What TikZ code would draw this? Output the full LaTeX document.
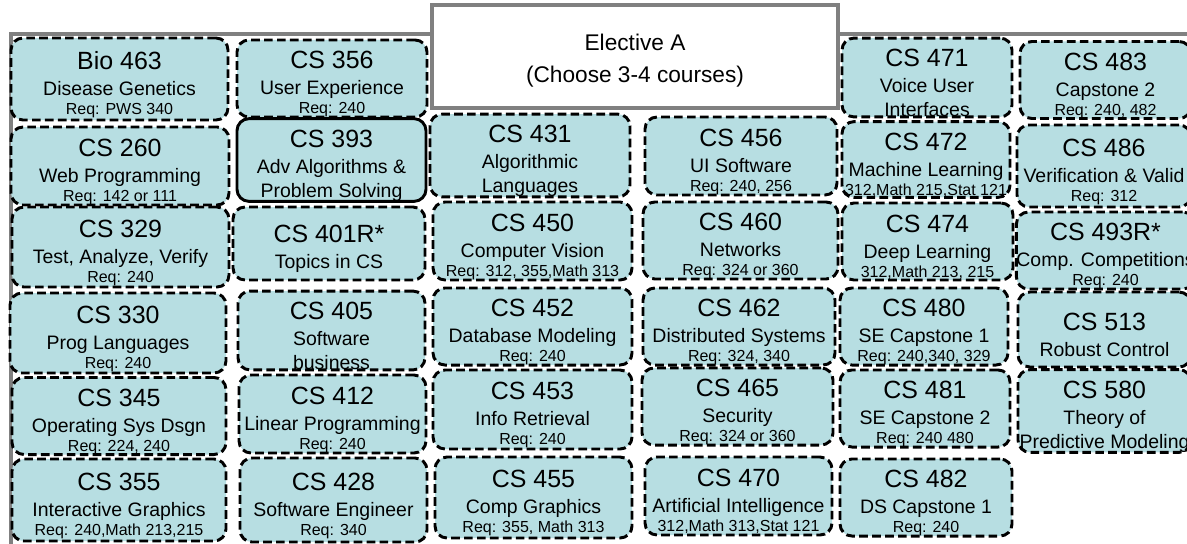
\documentclass[tikz,border=0pt]{standalone}
\usepackage{fontspec}
\setmainfont{Liberation Sans}

\definecolor{coursefill}{RGB}{183,222,226}
\definecolor{framegray}{RGB}{128,128,128}
\newcommand{\crscode}[1]{{\fontsize{18.7}{18}\selectfont\rule{0pt}{21.5pt}#1}}
\newcommand{\reqline}[1]{{\fontsize{12}{18}\selectfont #1}}

\tikzset{every picture/.style={line width=0.75pt}}
\tikzset{
  course/.style={draw, fill=coursefill, rounded corners=9pt, line width=2.2pt,
    dash pattern=on 6.5pt off 3.2pt, align=center, inner sep=0pt,
    font=\fontsize{14.6}{18}\selectfont},
  boxsz/.style 2 args={minimum width=#1*0.75pt, minimum height=#2*0.75pt},
  header/.style={draw=framegray, fill=white, line width=3pt, align=center,
    font=\fontsize{17}{24}\selectfont},
  frame/.style={draw=framegray, line width=3pt}
}

\begin{document}
\begin{tikzpicture}[x=0.75pt,y=0.75pt,yscale=-1,xscale=1]
    \useasboundingbox (0,0) rectangle (1187,543);

    %Straight Lines: group frame
    \coordinate (frameR) at (1200,34);
    \coordinate (frameC) at (11,34);
    \coordinate (frameB) at (11,560);
    \draw[frame] (frameR) -- (frameC) -- (frameB);

    %Shape: Rectangle (title)
    \node[header, boxsz={406}{103}] (electA) at (635,56.5) {\rule{0pt}{18pt}Elective A\\(Choose 3-4 courses)};

    %Shape: Rounded Rectangles, column 1
    \node[course, boxsz={217}{82}] (bio463) at (119.5,79) {\crscode{Bio 463}\\[1.5pt] Disease Genetics\\[-3.7pt] \reqline{Req: PWS 340}};
    \node[course, boxsz={218}{78}] (cs260) at (120,166) {\crscode{CS 260}\\[1.5pt] Web Programming\\[-3.7pt] \reqline{Req: 142 or 111}};
    \node[course, boxsz={217}{80}] (cs329) at (120.5,247) {\crscode{CS 329}\\[1.5pt] Test, Analyze, Verify\\[-3.7pt] \reqline{Req: 240}};
    \node[course, boxsz={216}{80}] (cs330) at (118,333) {\crscode{CS 330}\\[1.5pt] Prog Languages\\[-3.7pt] \reqline{Req: 240}};
    \node[course, boxsz={214}{72}] (cs345) at (119,416) {\crscode{CS 345}\\[1.5pt] Operating Sys Dsgn\\[-3.7pt] \reqline{Req: 224, 240}};
    \node[course, boxsz={214}{82}] (cs355) at (119,500) {\crscode{CS 355}\\[1.5pt] Interactive Graphics\\[-3.7pt] \reqline{Req: 240,Math 213,215}};

    %Shape: Rounded Rectangles, column 2
    \node[course, boxsz={190}{73}] (cs356) at (332,78.5) {\crscode{CS 356}\\[1.5pt] User Experience\\[-3.7pt] \reqline{Req: 240}};
    \node[course, solid, boxsz={189}{76}] (cs393) at (331.5,160) {\crscode{CS 393}\\[1.5pt] Adv Algorithms \&\\ Problem Solving};
    \node[course, boxsz={192}{73}] (cs401) at (329,243.5) {\crscode{CS 401R*}\\[1.5pt] Topics in CS};
    \node[course, boxsz={187}{75}] (cs405) at (331.5,330.5) {\crscode{CS 405}\\[1.5pt] Software\\ business};
    \node[course, boxsz={187}{78}] (cs412) at (332.5,414) {\crscode{CS 412}\\[1.5pt] Linear Programming\\[-3.7pt] \reqline{Req: 240}};
    \node[course, boxsz={187}{84}] (cs428) at (333.5,500) {\crscode{CS 428}\\[1.5pt] Software Engineer\\[-3.7pt] \reqline{Req: 340}};

    %Shape: Rounded Rectangles, column 3
    \node[course, boxsz={200}{75}] (cs431) at (530,155.5) {\crscode{CS 431}\\[1.5pt] Algorithmic\\ Languages};
    \node[course, boxsz={199}{78}] (cs450) at (532.5,241) {\crscode{CS 450}\\[1.5pt] Computer Vision\\[-3.7pt] \reqline{Req: 312, 355,Math 313}};
    \node[course, boxsz={199}{73}] (cs452) at (532.5,326.5) {\crscode{CS 452}\\[1.5pt] Database Modeling\\[-3.7pt] \reqline{Req: 240}};
    \node[course, boxsz={199}{79}] (cs453) at (532.5,409.5) {\crscode{CS 453}\\[1.5pt] Info Retrieval\\[-3.7pt] \reqline{Req: 240}};
    \node[course, boxsz={197}{81}] (cs455) at (533.5,497.5) {\crscode{CS 455}\\[1.5pt] Comp Graphics\\[-3.7pt] \reqline{Req: 355, Math 313}};

    %Shape: Rounded Rectangles, column 4
    \node[course, boxsz={192}{78}] (cs456) at (741,156) {\crscode{CS 456}\\[1.5pt] UI Software\\[-3.7pt] \reqline{Req: 240, 256}};
    \node[course, boxsz={195}{75}] (cs460) at (740.5,240.5) {\crscode{CS 460}\\[1.5pt] Networks\\[-3.7pt] \reqline{Req: 324 or 360}};
    \node[course, boxsz={192}{77}] (cs462) at (739,326.5) {\crscode{CS 462}\\[1.5pt] Distributed Systems\\[-3.7pt] \reqline{Req: 324, 340}};
    \node[course, boxsz={191}{77}] (cs465) at (737.5,406.5) {\crscode{CS 465}\\[1.5pt] Security\\[-3.7pt] \reqline{Req: 324 or 360}};
    \node[course, boxsz={187}{78}] (cs470) at (738.5,496) {\crscode{CS 470}\\[1.5pt] Artificial Intelligence\\[-3.7pt] \reqline{312,Math 313,Stat 121}};

    %Shape: Rounded Rectangles, column 5
    \node[course, boxsz={170}{75}] (cs471) at (927,77.5) {\crscode{CS 471}\\[1.5pt] Voice User\\ Interfaces};
    \node[course, boxsz={168}{75}] (cs472) at (926,159.5) {\crscode{CS 472}\\[1.5pt] Machine Learning\\[-3.7pt] \reqline{312,Math 215,Stat 121}};
    \node[course, boxsz={171}{77}] (cs474) at (927.5,241.5) {\crscode{CS 474}\\[1.5pt] Deep Learning\\[-3.7pt] \reqline{312,Math 213, 215}};
    \node[course, boxsz={168}{73}] (cs480) at (924,326.5) {\crscode{CS 480}\\[1.5pt] SE Capstone 1\\[-3.7pt] \reqline{Req: 240,340, 329}};
    \node[course, boxsz={170}{73}] (cs481) at (925,408.5) {\crscode{CS 481}\\[1.5pt] SE Capstone 2\\[-3.7pt] \reqline{Req: 240 480}};
    \node[course, boxsz={172}{75}] (cs482) at (926,497.5) {\crscode{CS 482}\\[1.5pt] DS Capstone 1\\[-3.7pt] \reqline{Req: 240}};

    %Shape: Rounded Rectangles, column 6
    \node[course, boxsz={171}{76}] (cs483) at (1105.5,80) {\crscode{CS 483}\\[1.5pt] Capstone 2\\[-3.7pt] \reqline{Req: 240, 482}};
    \node[course, boxsz={174}{82}] (cs486) at (1104,166) {\crscode{CS 486}\\[1.5pt] Verification \& Valid\\[-3.7pt] \reqline{Req: 312}};
    \node[course, boxsz={171}{75}] (cs493) at (1105.5,250.5) {\crscode{CS 493R*}\\[1.5pt] Comp. Competitions\\[-3.7pt] \reqline{Req: 240}};
    \node[course, boxsz={173}{75}] (cs513) at (1104.5,329.5) {\crscode{CS 513}\\[1.5pt] Robust Control};
    \node[course, boxsz={173}{78}] (cs580) at (1104.5,411) {\crscode{CS 580}\\[1.5pt] Theory of\\ Predictive Modeling};
\end{tikzpicture}
\end{document}
